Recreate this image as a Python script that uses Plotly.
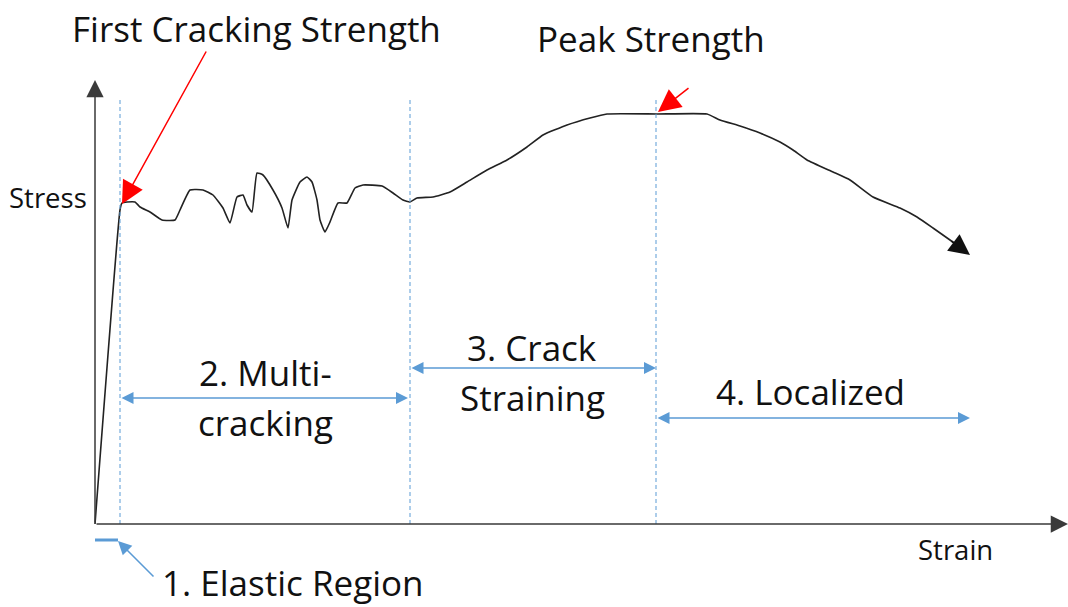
import plotly.graph_objects as go

# ---- data (schematic units: strain, stress) ----
strain = [0, 25, 27, 32, 40, 45, 55, 67, 80, 85, 95, 108, 118, 128, 135, 142, 148, 152, 157,
          162, 168, 178, 187, 193, 197, 205, 212, 217, 222, 225, 230, 235, 243, 252, 260, 268,
          287, 298, 308, 315, 322, 338, 355, 372, 392, 412, 432, 448, 472, 495, 512, 562, 612,
          625, 645, 665, 685, 698, 712, 738, 755, 778, 805, 822, 838, 855, 870]
stress = [0, 314, 321, 322, 322, 317, 312, 304, 304, 314, 334, 334, 329, 316, 301, 327, 329, 319, 312,
          351, 349, 334, 316, 296, 324, 342, 347, 342, 324, 304, 292, 302, 321, 321, 336, 339,
          338, 331, 324, 322, 326, 327, 332, 342, 354, 364, 377, 389, 399, 406, 410, 410, 410,
          404, 398, 391, 382, 374, 364, 352, 344, 327, 316, 307, 296, 284, 273]
curve_tip = (875, 269)

region_bounds = [25, 315, 561]          # first crack, end multi-cracking, peak
dash_top = 427
first_crack = (27, 320)
peak = (563, 412)

x_axis_end = 973
y_axis_end = 444

region_spans = [(25, 313), (315, 561), (561, 875)]
region_arrow_y = [126, 156, 106]
region_label_lines = [("2. Multi-", (170, 152)), ("cracking", (170, 102)),
                      ("3. Crack", (437, 177)), ("Straining", (437, 127)),
                      ("4. Localized", (715, 133))]

BLUE = "#5b9bd5"
FONT = "Open Sans"
BIG = 35
SMALL = 27.5

fig = go.Figure()

fig.add_trace(go.Scatter(x=strain, y=stress, mode="lines",
                         line=dict(color="#222222", width=1.6, shape="spline", smoothing=0.4),
                         hoverinfo="skip", showlegend=False))

annotations = []

def arrow(x, y, ax, ay, color, width=1.5, size=1.5, head=2, side="end"):
    annotations.append(dict(x=x, y=y, ax=ax, ay=ay, xref="x", yref="y", axref="x", ayref="y",
                            text="", showarrow=True, arrowcolor=color, arrowwidth=width,
                            arrowsize=size, arrowhead=head, arrowside=side, standoff=0,
                            startstandoff=0))

def label(x, y, text, size=BIG):
    annotations.append(dict(x=x, y=y, xref="x", yref="y", text=text, showarrow=False,
                            font=dict(family=FONT, size=size, color="#111111"), borderpad=0))

# axes
arrow(0, y_axis_end, 0, 0, "#3a3a3a", width=1.5, size=2.3, head=2)
arrow(x_axis_end, 0, 0, 0, "#3a3a3a", width=1.5, size=2.3, head=2)

# curve end arrow
arrow(curve_tip[0], curve_tip[1], strain[-2], stress[-2], "#111111", width=1.6, size=2.6, head=2)

# region dashed lines
for b in region_bounds:
    fig.add_shape(type="line", x0=b, x1=b, y0=0, y1=dash_top, xref="x", yref="y",
                  line=dict(color=BLUE, width=1, dash="4px,3px"))

# region double arrows + labels
for (x0, x1), yy in zip(region_spans, region_arrow_y):
    arrow(x1, yy, x0, yy, BLUE, width=1.5, size=1.6, head=2, side="end+start")
for txt, (lx, ly) in region_label_lines:
    label(lx, ly, txt)

# elastic region
fig.add_shape(type="line", x0=0, x1=23, y0=-16, y1=-16, xref="x", yref="y",
              line=dict(color=BLUE, width=3))
arrow(23, -17, 60, -54, BLUE, width=1.5, size=1.8, head=2)
label(198, -58, "1. Elastic Region")

# red arrows and titles
arrow(first_crack[0], first_crack[1], 112, 474, "red", width=1.5, size=3, head=2)
arrow(peak[0], peak[1], 595, 437, "red", width=1.5, size=3, head=2)
label(161, 496, "First Cracking Strength")
label(556, 486, "Peak Strength")

# axis titles
label(-47, 327, "Stress", SMALL)
label(860, -25, "Strain", SMALL)

fig.update_layout(
    width=1068, height=607, margin=dict(l=0, r=0, t=0, b=0),
    plot_bgcolor="white", paper_bgcolor="white",
    xaxis=dict(range=[-95, 973], visible=False, fixedrange=True),
    yaxis=dict(range=[-83, 524], visible=False, fixedrange=True),
    annotations=annotations, showlegend=False,
)

fig.write_html("out.html", config={"displayModeBar": False},
               post_script="document.body.style.margin='0';document.body.style.overflow='hidden';")
